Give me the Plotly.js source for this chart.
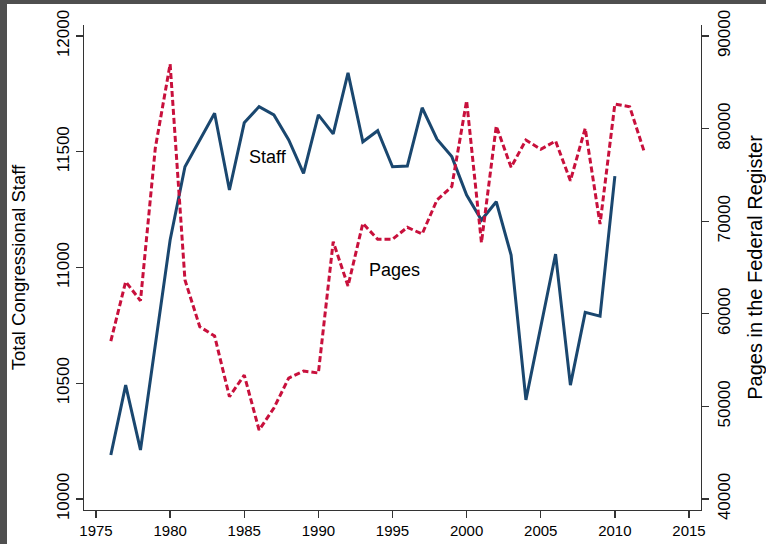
<!DOCTYPE html>
<html>
<head>
<meta charset="utf-8">
<script src="https://cdn.plot.ly/plotly-3.0.1.min.js"></script>
<style>
  html, body { margin: 0; padding: 0; background: #ffffff; }
  #wrap { position: relative; width: 766px; height: 544px; overflow: hidden; }
  #chart { position: absolute; left: 0; top: 0; width: 766px; height: 544px; }
  .edgeTop { position: absolute; left: 0; top: 0; width: 766px; height: 4px; background: #4f4f4f; }
  .edgeLeft { position: absolute; left: 0; top: 0; width: 7px; height: 544px; background: #4f4f4f; }
</style>
</head>
<body>
<div id="wrap">
  <div id="chart"></div>
  <div class="edgeTop"></div>
  <div class="edgeLeft"></div>
</div>
<script>
// Years
const staffYears = [1976,1977,1978,1979,1980,1981,1982,1983,1984,1985,1986,1987,1988,1989,1990,1991,1992,1993,1994,1995,1996,1997,1998,1999,2000,2001,2002,2003,2004,2005,2006,2007,2008,2009,2010];
const pageYears = [1976,1977,1978,1979,1980,1981,1982,1983,1984,1985,1986,1987,1988,1989,1990,1991,1992,1993,1994,1995,1996,1997,1998,1999,2000,2001,2002,2003,2004,2005,2006,2007,2008,2009,2010,2011,2012];

// Total congressional staff (left axis)
const staffValues = [10190,10492,10212,10665,11119,11435,11551,11666,11335,11625,11695,11659,11551,11407,11659,11577,11841,11543,11591,11435,11438,11690,11554,11479,11313,11205,11284,11054,10428,10743,11058,10492,10806,10790,11395];

// Pages in the Federal Register (right axis)
const pageValues = [57060,63464,61412,77904,86976,63648,58604,57600,51044,53388,47448,49824,53064,53820,53604,67784,63000,69772,68044,68044,69340,68616,72288,73746,83012,67676,80280,75820,78768,77764,78660,74372,80032,69696,82656,82364,77396];

// Tick values
const xTicks = [1975,1980,1985,1990,1995,2000,2005,2010,2015];
const staffTicks = [10000,10500,11000,11500,12000];
const pageTicks = [40000,50000,60000,70000,80000,90000];

// Labels
const staffLabel = "Staff";
const pagesLabel = "Pages";
const leftTitle = "Total Congressional Staff";
const rightTitle = "Pages in the Federal Register";

const FONT = "Arial, 'Liberation Sans', sans-serif";

const traces = [
  {
    x: staffYears, y: staffValues, type: "scatter", mode: "lines",
    name: staffLabel, yaxis: "y",
    line: { color: "#1a476f", width: 3 }
  },
  {
    x: pageYears, y: pageValues, type: "scatter", mode: "lines",
    name: pagesLabel, yaxis: "y2",
    line: { color: "#c8103c", width: 3, dash: "6px,3px" }
  }
];

const axisCommon = {
  showgrid: false, zeroline: false, showline: true,
  linecolor: "#333333", linewidth: 1.3,
  ticks: "outside", ticklen: 7, tickwidth: 1.3, tickcolor: "#333333",
  tickfont: { family: FONT, size: 17, color: "#000000" }
};

const layout = {
  width: 766, height: 544,
  margin: { l: 84, r: 65, t: 25, b: 34, pad: 0 },
  paper_bgcolor: "#ffffff", plot_bgcolor: "#ffffff",
  showlegend: false,
  font: { family: FONT, color: "#000000" },
  xaxis: Object.assign({}, axisCommon, {
    range: [1974.19, 2015.81],
    tickmode: "array", tickvals: xTicks, ticktext: xTicks.map(String),
    tickfont: { family: FONT, size: 15, color: "#000000" }
  }),
  yaxis: Object.assign({}, axisCommon, {
    range: [9952.5, 12047.5],
    tickmode: "array", tickvals: staffTicks, ticktext: staffTicks.map(String),
    tickangle: -90,
    title: { text: leftTitle, font: { family: FONT, size: 18.5, color: "#000000" }, standoff: 23 }
  }),
  yaxis2: Object.assign({}, axisCommon, {
    overlaying: "y", side: "right",
    range: [38812, 91188],
    tickmode: "array", tickvals: pageTicks, ticktext: pageTicks.map(String),
    tickangle: -90,
    title: { text: rightTitle, font: { family: FONT, size: 20, color: "#000000" }, standoff: 22 }
  }),
  annotations: [
    { x: 1985.2, y: 11477, xref: "x", yref: "y", text: staffLabel, showarrow: false,
      xanchor: "left", yanchor: "middle", font: { family: FONT, size: 18, color: "#000000" } },
    { x: 1993.3, y: 64730, xref: "x", yref: "y2", text: pagesLabel, showarrow: false,
      xanchor: "left", yanchor: "middle", font: { family: FONT, size: 18, color: "#000000" } }
  ]
};

Plotly.newPlot("chart", traces, layout, { displayModeBar: false, staticPlot: true });
</script>
</body>
</html>
